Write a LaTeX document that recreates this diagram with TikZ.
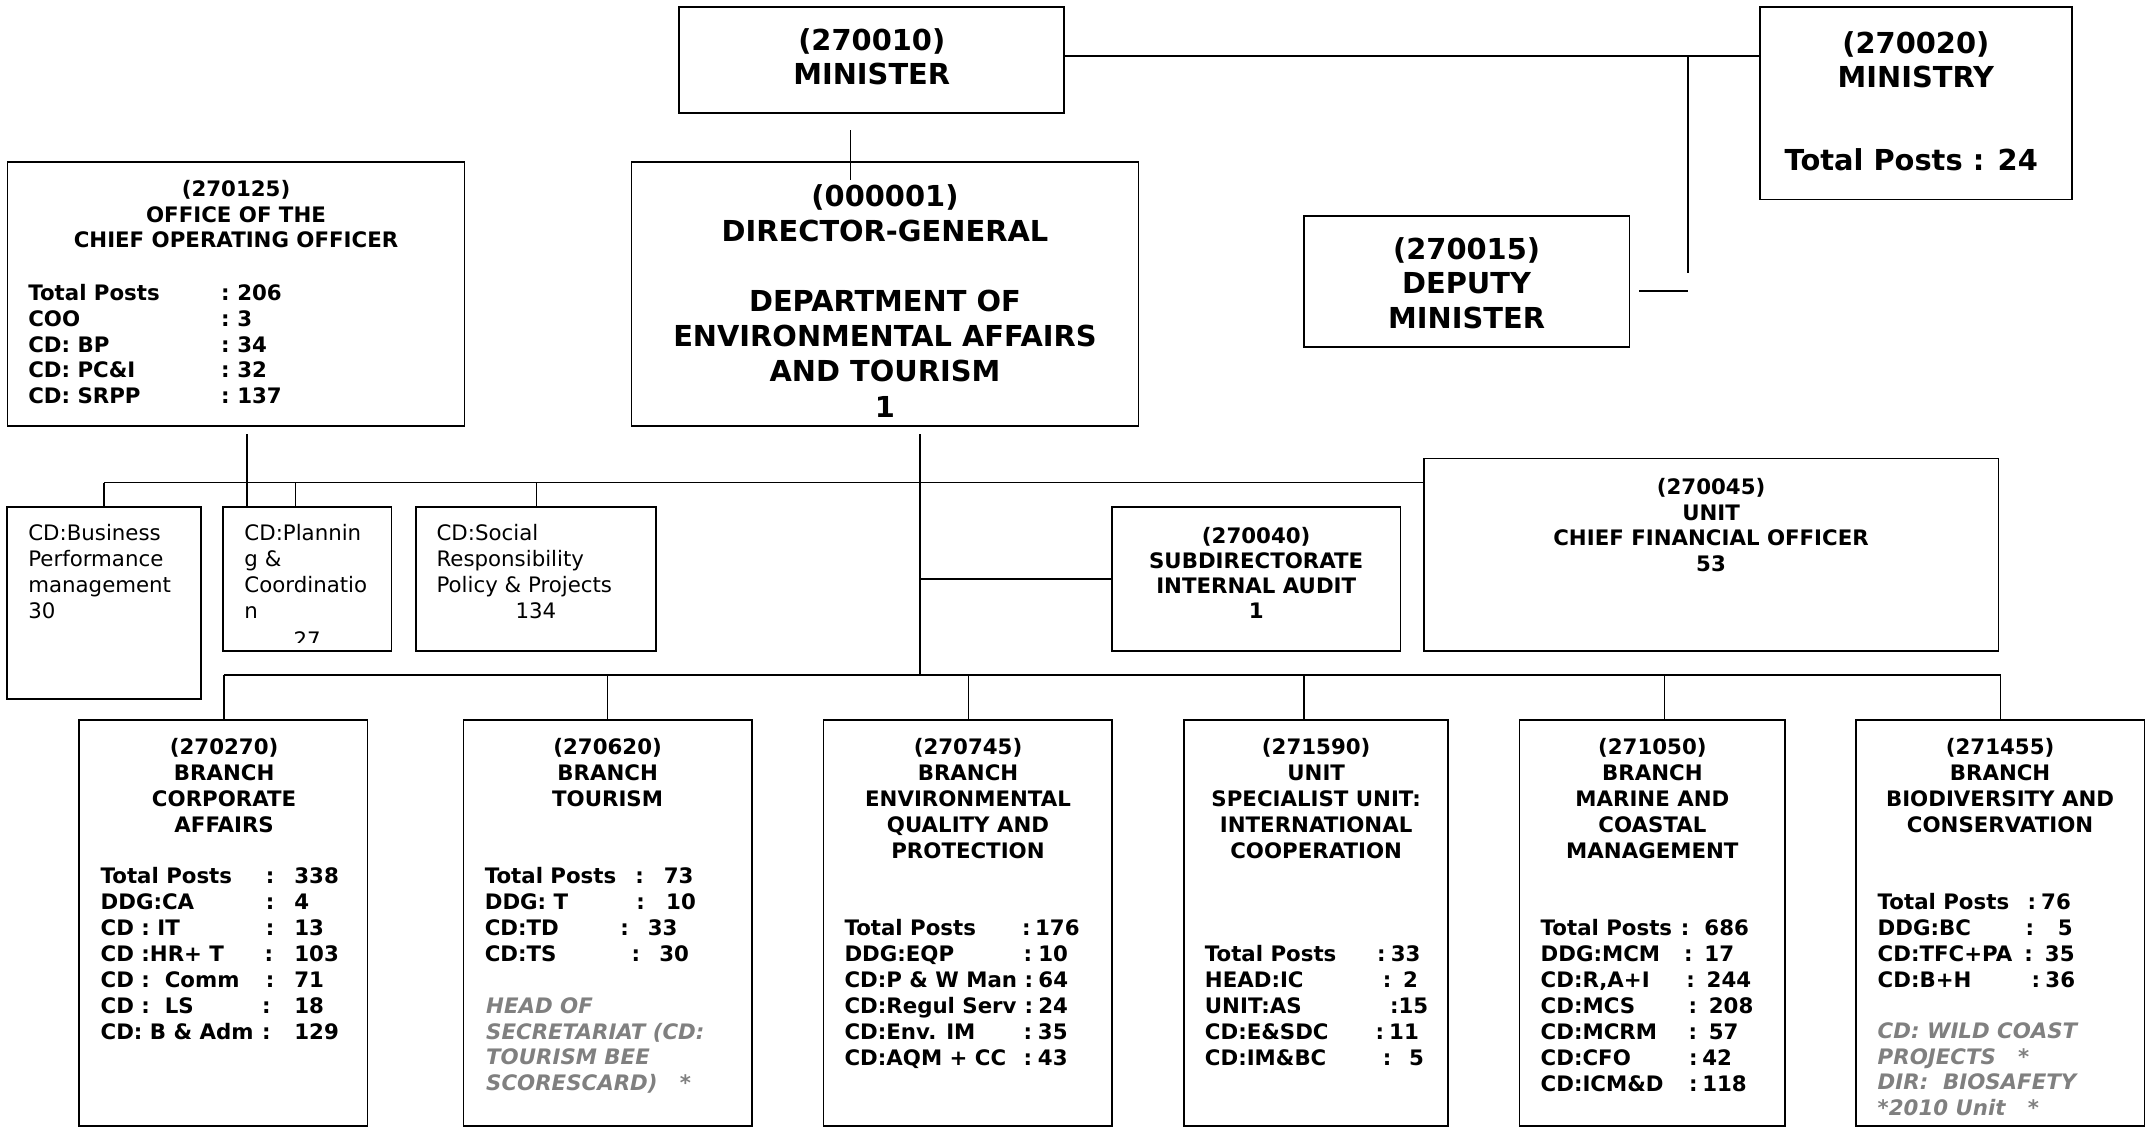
\documentclass[tikz,border=0pt]{standalone}
\usepackage{fontspec}
\setmainfont{DejaVu Sans}
\newcommand\bst{\rule{0pt}{22pt}}
\newcommand\sst{\rule{0pt}{16pt}}
\newcommand\srow[4]{\makebox[#2pt][l]{#1}\makebox[#3pt][l]{:}#4}
\begin{document}
\begin{tikzpicture}[x=1pt,y=-1pt,
 bx/.style={draw, line width=1.2pt, inner sep=0pt, rectangle},
 ln/.style={line width=1.1pt},
 bigtxt/.style={font=\fontsize{21}{24.8}\selectfont\bfseries, inner sep=0pt, align=center, anchor=north},
 hdr/.style={font=\fontsize{15.5}{18.9}\selectfont\bfseries, inner sep=0pt, align=center, anchor=north},
 stats/.style={font=\fontsize{15.5}{18.9}\selectfont\bfseries, inner sep=0pt, align=left, anchor=north west},
 note/.style={font=\fontsize{15.5}{18.6}\selectfont\bfseries\itshape, text=black!50, inner sep=0pt, align=left, anchor=north west},
 plaintxt/.style={font=\fontsize{15.5}{18.8}\selectfont, inner sep=0pt, align=left, anchor=north west},
]
\useasboundingbox (0,0) rectangle (1568,820);

% ---------- boxes ----------
\node[bx, minimum width=280pt, minimum height=77pt] (minister) at (634,43.5) {};
\node[bx, minimum width=226.7pt, minimum height=140pt] (ministry) at (1393.35,75) {};
\node[bx, minimum width=236.9pt, minimum height=95.5pt] (deputy) at (1066.65,204.75) {};
\node[bx, minimum width=332.3pt, minimum height=192.2pt] (coo) at (171.65,213.9) {};
\node[bx, minimum width=368.6pt, minimum height=192.2pt] (dg) at (643.6,213.9) {};
\node[bx, minimum width=140.9pt, minimum height=139.8pt] (biz) at (75.55,438.5) {};
\node[bx, minimum width=122.5pt, minimum height=104.9pt] (plan) at (223.45,421.05) {};
\node[bx, minimum width=174.5pt, minimum height=104.9pt] (soc) at (389.75,421.05) {};
\node[bx, minimum width=209.8pt, minimum height=104.9pt] (audit) at (913.6,421.05) {};
\node[bx, minimum width=418pt, minimum height=140.1pt] (cfo) at (1244.4,403.45) {};
\node[bx, minimum width=209.7pt, minimum height=295.3pt] (corp) at (162.45,671.35) {};
\node[bx, minimum width=209.7pt, minimum height=295.3pt] (tour) at (441.95,671.35) {};
\node[bx, minimum width=209.7pt, minimum height=295.3pt] (eqp) at (703.85,671.35) {};
\node[bx, minimum width=192pt, minimum height=295.3pt] (ic) at (957.1,671.35) {};
\node[bx, minimum width=192.8pt, minimum height=295.3pt] (mcm) at (1201.6,671.35) {};
\node[bx, minimum width=209.7pt, minimum height=295.3pt] (bc) at (1454.65,671.35) {};

% ---------- texts ----------
\node[bigtxt, font=\fontsize{21}{24.6}\selectfont\bfseries] (minT) at (634,14.4) {\bst(270010)\\MINISTER};
\node[bigtxt, font=\fontsize{21}{24.6}\selectfont\bfseries] (minyT) at (1393.35,16.8) {\bst(270020)\\MINISTRY};
\node[bigtxt, anchor=base] (minyP) at (1390,124.3) {Total Posts : 24};
\node[bigtxt, font=\fontsize{21}{24.85}\selectfont\bfseries] (depT) at (1066.6,166.7) {\bst(270015)\\DEPUTY\\MINISTER};
\node[bigtxt, font=\fontsize{21}{25.6}\selectfont\bfseries] (dgT) at (643.6,127.7)
 {\bst(000001)\\DIRECTOR-GENERAL\\[25.4pt]DEPARTMENT OF\\ENVIRONMENTAL AFFAIRS\\AND TOURISM\\1};

\node[hdr, font=\fontsize{15.5}{18.6}\selectfont\bfseries] (cooT) at (171.65,126.9) {\sst(270125)\\OFFICE OF THE\\CHIEF OPERATING OFFICER};
\node[stats, font=\fontsize{15.5}{18.8}\selectfont\bfseries] (cooS) at (20.4,202.2)
 {\sst\srow{Total Posts}{140.3}{11.7}{206}\\\srow{COO}{140.3}{11.7}{3}\\\srow{CD: BP}{140.3}{11.7}{34}\\\srow{CD: PC\&I}{140.3}{11.7}{32}\\\srow{CD: SRPP}{140.3}{11.7}{137}};

\node[plaintxt] (bizT) at (20.4,377.2) {\sst CD:Business\\Performance\\management\\30};
\node[plaintxt] (planT) at (177.6,377.2) {\sst CD:Plannin\\g \&\\Coordinatio\\n};
\begin{scope}
\clip (162.2,368.6) rectangle (284.7,467);
\node[plaintxt, anchor=base] (planN) at (223.45,471) {27};
\end{scope}
\node[plaintxt] (socT) at (317.3,377.2) {\sst CD:Social\\Responsibility\\Policy \& Projects};
\node[plaintxt, anchor=base] (socN) at (389.75,449.5) {134};

\node[hdr, font=\fontsize{15.5}{18.2}\selectfont\bfseries] (auditT) at (913.6,378.9) {\sst(270040)\\SUBDIRECTORATE\\INTERNAL AUDIT\\1};
\node[hdr, font=\fontsize{15.5}{18.5}\selectfont\bfseries] (cfoT) at (1244.4,343.7) {\sst(270045)\\UNIT\\CHIEF FINANCIAL OFFICER\\53};

\node[hdr] (corpH) at (163,532.4) {\sst(270270)\\BRANCH\\CORPORATE\\AFFAIRS};
\node[hdr] (tourH) at (441.9,532.4) {\sst(270620)\\BRANCH\\TOURISM};
\node[hdr] (eqpH) at (704,532.4) {\sst(270745)\\BRANCH\\ENVIRONMENTAL\\QUALITY AND\\PROTECTION};
\node[hdr] (icH) at (957.2,532.4) {\sst(271590)\\UNIT\\SPECIALIST UNIT:\\INTERNATIONAL\\COOPERATION};
\node[hdr] (mcmH) at (1201.7,532.4) {\sst(271050)\\BRANCH\\MARINE AND\\COASTAL\\MANAGEMENT};
\node[hdr] (bcH) at (1454.6,532.4) {\sst(271455)\\BRANCH\\BIODIVERSITY AND\\CONSERVATION};

\node[stats] (corpS) at (73,626.3)
 {\sst\srow{Total Posts}{120.2}{20.7}{338}\\
  \srow{DDG:CA}{120.2}{20.7}{4}\\
  \srow{CD : IT}{120.2}{20.7}{13}\\
  \srow{CD :HR+ T}{119.2}{21.7}{103}\\
  \srow{CD :\ \ Comm}{120.2}{20.7}{71}\\
  \srow{CD :\ \ LS}{117.5}{23.4}{18}\\
  \srow{CD: B \& Adm}{117.5}{23.4}{129}};
\node[stats] (tourS) at (352.4,626.3)
 {\sst\srow{Total Posts}{109.5}{20.7}{73}\\
  \srow{DDG: T}{110.2}{21.7}{10}\\
  \srow{CD:TD}{98.5}{20}{33}\\
  \srow{CD:TS}{106.8}{20.1}{30}};
\node[note] (tourN) at (353.4,721) {\sst HEAD OF\\SECRETARIAT (CD:\\TOURISM BEE\\SCORESCARD)\ \ \ *};
\node[stats] (eqpS) at (614,664)
 {\sst\srow{Total Posts}{129.2}{9.4}{176}\\
  \srow{DDG:EQP}{130.2}{10.7}{10}\\
  \srow{CD:P \& W Man}{131}{10}{64}\\
  \srow{CD:Regul Serv}{131}{10}{24}\\
  \srow{CD:Env. IM}{130.2}{10.5}{35}\\
  \srow{CD:AQM + CC}{130.2}{10.5}{43}};
\node[stats] (icS) at (876.1,682.9)
 {\sst\srow{Total Posts}{125.2}{10}{33}\\
  \srow{HEAD:IC}{129.5}{14.7}{2}\\
  \srow{UNIT:AS}{134.6}{6.3}{15}\\
  \srow{CD:E\&SDC}{124.2}{9.8}{11}\\
  \srow{CD:IM\&BC}{129.5}{19.1}{5}};
\node[stats] (mcmS) at (1120.3,664)
 {\sst\srow{Total Posts}{101.9}{17.2}{686}\\
  \srow{DDG:MCM}{104.4}{14.7}{17}\\
  \srow{CD:R,A+I}{106}{14.7}{244}\\
  \srow{CD:MCS}{107.5}{14.8}{208}\\
  \srow{CD:MCRM}{107.5}{14.8}{57}\\
  \srow{CD:CFO}{108}{9.5}{42}\\
  \srow{CD:ICM\&D}{108}{9.5}{118}};
\node[stats] (bcS) at (1365.4,645.3)
 {\sst\srow{Total Posts}{109.1}{9.8}{76}\\
  \srow{DDG:BC}{107.5}{23.5}{5}\\
  \srow{CD:TFC+PA}{106.6}{15}{35}\\
  \srow{CD:B+H}{112}{10}{36}};
\node[note] (bcN) at (1365.4,739.2) {\sst CD: WILD COAST\\PROJECTS\ \ \ *\\DIR:\ \ BIOSAFETY\\*2010 Unit\ \ \ *};

% ---------- connectors ----------
\coordinate (jm) at (1227.7,40.8);
\coordinate (jd) at (1227.7,198.7);
\coordinate (dq) at (1192.3,211.8);
\draw[ln] (minister.east |- jm) -- (ministry.west |- jm);
\draw[ln] (jm) -- (jd);
\draw[ln] (dq) -- (dq -| jm);

\coordinate (m1) at (618.7,94.7);
\coordinate (m2) at (618.7,131);
\draw[ln] (m1) -- (m2);

\coordinate (c1) at (179.6,315.7);
\draw[ln] (c1) -- (c1 |- plan.north);
\coordinate (d1) at (669,315.7);
\coordinate (d2) at (669,491);
\draw[ln] (d1) -- (d2);

\coordinate (b1) at (75.5,351);
\coordinate (pd) at (215,351);
\coordinate (sd) at (390,351);
\draw[ln] (b1) -- (b1 -| cfo.west);
\draw[ln] (b1) -- (b1 |- biz.north);
\draw[ln] (pd) -- (pd |- plan.north);
\draw[ln] (sd) -- (sd |- soc.north);

\coordinate (ad) at (669,421);
\draw[ln] (ad) -- (ad -| audit.west);

\coordinate (l1) at (162.8,491);
\coordinate (l2) at (441.9,491);
\coordinate (l3) at (704.2,491);
\coordinate (l4) at (948.2,491);
\coordinate (l5) at (1210.6,491);
\coordinate (l6) at (1455,491);
\draw[ln] (l1) -- (l6);
\draw[ln] (l1) -- (l1 |- corp.north);
\draw[ln] (l2) -- (l2 |- tour.north);
\draw[ln] (l3) -- (l3 |- eqp.north);
\draw[ln] (l4) -- (l4 |- ic.north);
\draw[ln] (l5) -- (l5 |- mcm.north);
\draw[ln] (l6) -- (l6 |- bc.north);
\end{tikzpicture}
\end{document}
